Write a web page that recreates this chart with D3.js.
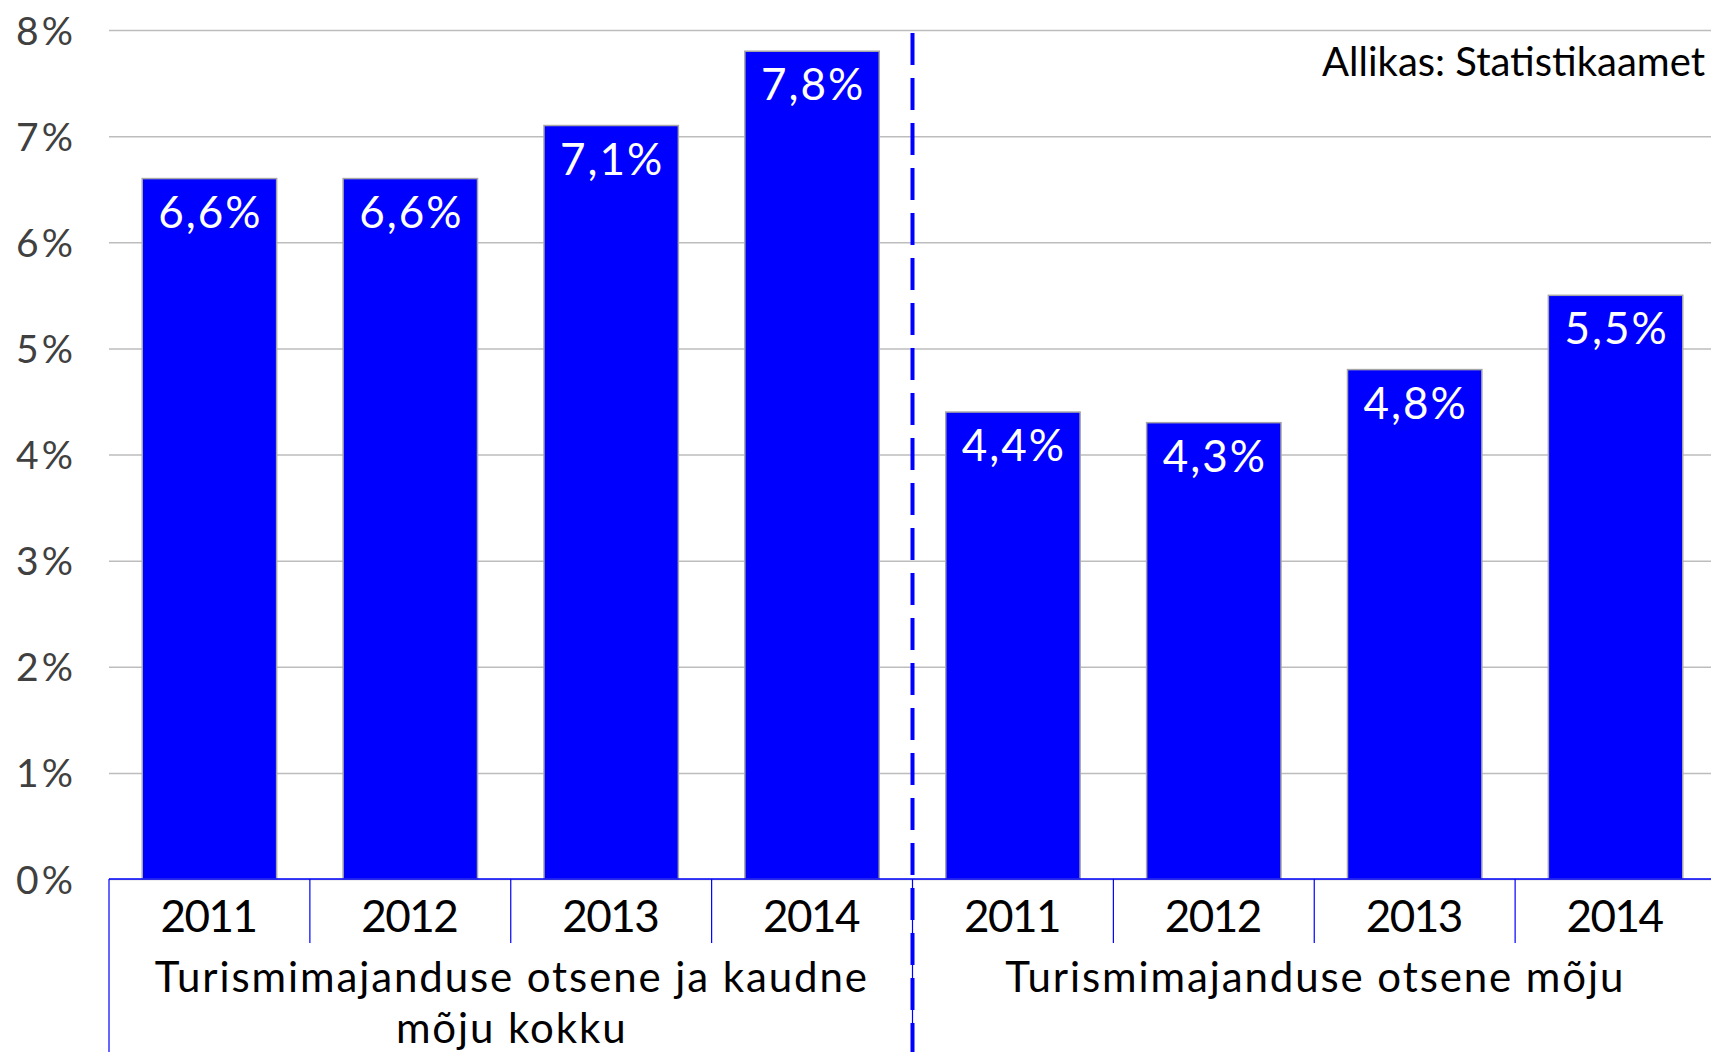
<!DOCTYPE html>
<html>
<head>
<meta charset="utf-8">
<script src="https://cdn.jsdelivr.net/npm/d3@7"></script>
<style>
  html, body { margin: 0; padding: 0; background: #fff; }
  svg { display: block; }
  text { font-family: "Lato", "Open Sans", sans-serif; }
</style>
</head>
<body>
<svg id="chart" width="1711" height="1052"></svg>
<script>
const years = ["2011", "2012", "2013", "2014"];
const groups = ["Turismimajanduse otsene ja kaudne mõju kokku", "Turismimajanduse otsene mõju"];
const groupLines = [["Turismimajanduse otsene ja kaudne", "mõju kokku"], ["Turismimajanduse otsene mõju"]];
const totalValues = [6.6, 6.6, 7.1, 7.8];
const directValues = [4.4, 4.3, 4.8, 5.5];
const yTicks = [0, 1, 2, 3, 4, 5, 6, 7, 8];
const sourceText = "Allikas: Statistikaamet";

const data = [];
years.forEach((y, i) => data.push({ group: 0, year: y, value: totalValues[i] }));
years.forEach((y, i) => data.push({ group: 1, year: y, value: directValues[i] }));
data.forEach(d => d.key = d.group + "-" + d.year);

const W = 1711, H = 1052;
const margin = { left: 109, top: 30 };
const plotRight = 1716;
const plotW = plotRight - margin.left;
const y0 = 879;

const svg = d3.select("#chart");

const x = d3.scaleBand()
  .domain(data.map(d => d.key))
  .range([margin.left, plotRight])
  .paddingInner(0.331)
  .paddingOuter(0.1655);

const y = d3.scaleLinear().domain([0, 8]).range([y0, margin.top]);

// Gridlines + y labels
const yAxis = d3.axisLeft(y)
  .tickValues(yTicks)
  .tickFormat(d => d + "%")
  .tickSize(-plotW)
  .tickPadding(33);

const gy = svg.append("g")
  .attr("transform", `translate(${margin.left},0)`)
  .call(yAxis);
gy.select(".domain").remove();
gy.selectAll(".tick line").attr("stroke", "#bdbdbd").attr("stroke-width", 1.5);
gy.selectAll(".tick text")
  .attr("fill", "#404040")
  .attr("font-size", 39)
  .attr("letter-spacing", 3)
  .attr("dy", "0.36em");

// Bars
svg.append("g").selectAll("rect")
  .data(data)
  .join("rect")
  .attr("x", d => x(d.key))
  .attr("y", d => y(d.value))
  .attr("width", x.bandwidth())
  .attr("height", d => y(0) - y(d.value))
  .attr("fill", "#0000ff")
  .attr("stroke", "#a6a6a6")
  .attr("stroke-width", 1.5);

// Bar labels
svg.append("g").selectAll("text")
  .data(data)
  .join("text")
  .attr("x", d => x(d.key) + x.bandwidth() / 2 + 1)
  .attr("y", d => y(d.value) + 49)
  .attr("text-anchor", "middle")
  .attr("fill", "#ffffff")
  .attr("font-size", 44)
  .attr("letter-spacing", 2)
  .text(d => d.value.toFixed(1).replace(".", ",") + "%");

// Category axis
const step = x.step();
const boundaries = d3.range(0, data.length + 1).map(i => margin.left + i * step);
const axisG = svg.append("g");
axisG.append("line")
  .attr("x1", margin.left).attr("x2", W)
  .attr("y1", y0).attr("y2", y0)
  .attr("stroke", "#0000ff").attr("stroke-width", 1.5);
axisG.selectAll("line.tick")
  .data(boundaries)
  .join("line")
  .attr("class", "tick")
  .attr("x1", d => d).attr("x2", d => d)
  .attr("y1", y0)
  .attr("y2", (d, i) => (i % 4 === 0) ? H : 943)
  .attr("stroke", "#0000ff").attr("stroke-width", 1.2);

// Year labels
svg.append("g").selectAll("text")
  .data(data)
  .join("text")
  .attr("x", d => x(d.key) + x.bandwidth() / 2 - 1)
  .attr("y", 932)
  .attr("text-anchor", "middle")
  .attr("fill", "#000")
  .attr("font-size", 44)
  .attr("letter-spacing", -1.5)
  .text(d => d.year);

// Group labels (one text element per line)
groupLines.forEach((lines, gi) => {
  const cx = margin.left + (gi * 4 + 2) * step + 1;
  lines.forEach((ln, li) => {
    svg.append("text")
      .attr("x", cx)
      .attr("y", 992 + li * 51)
      .attr("text-anchor", "middle")
      .attr("fill", "#000")
      .attr("font-size", 42)
      .attr("letter-spacing", 1.9)
      .text(ln);
  });
});

// Dashed separator
const sepX = margin.left + 4 * step;
svg.append("line")
  .attr("x1", sepX).attr("x2", sepX)
  .attr("y1", 33).attr("y2", H)
  .attr("stroke", "#0000ff")
  .attr("stroke-width", 4)
  .attr("stroke-dasharray", "32,13");

// Source
svg.append("text")
  .attr("x", 1705)
  .attr("y", 76)
  .attr("text-anchor", "end")
  .attr("fill", "#000")
  .attr("font-size", 40)
  .text(sourceText);
</script>
</body>
</html>
